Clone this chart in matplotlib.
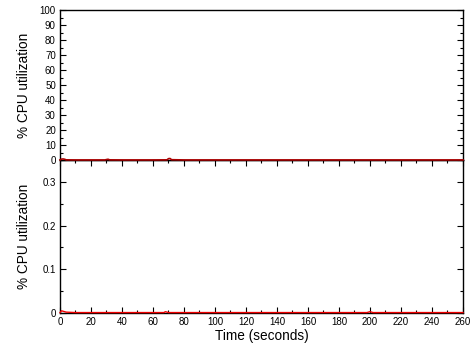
import matplotlib
matplotlib.use("Agg")
import matplotlib.pyplot as plt
from matplotlib.ticker import MultipleLocator

plt.rcParams['font.family'] = ['Liberation Sans', 'DejaVu Sans']

# Top panel series (percent CPU, 0-100 scale)
top_time = [0, 1, 2, 3, 4, 10, 20, 29, 30, 31, 32, 40, 50, 60, 69, 70, 71, 72, 80, 100,
            120, 140, 160, 180, 200, 220, 240, 260]
top_cpu = [0.1, 0.6, 0.7, 0.5, 0.1, 0.05, 0.05, 0.05, 0.3, 0.5, 0.1, 0.05, 0.05, 0.05, 0.1,
           0.9, 1.0, 0.2, 0.05, 0.05, 0.05, 0.05, 0.05, 0.05, 0.05, 0.05, 0.05, 0.05]

# Bottom panel series (percent CPU, zoomed scale)
bot_time = [0, 1, 2, 4, 10, 20, 30, 40, 50, 60, 67, 68, 70, 80, 100, 120, 140, 160, 180,
            198, 200, 202, 220, 240, 260]
bot_cpu = [0.001, 0.005, 0.004, 0.002, 0.001, 0.001, 0.001, 0.001, 0.001, 0.001, 0.001,
           0.003, 0.001, 0.001, 0.001, 0.001, 0.001, 0.001, 0.001, 0.001, 0.003, 0.001,
           0.001, 0.001, 0.001]

top_yticks = [0, 10, 20, 30, 40, 50, 60, 70, 80, 90, 100]
bot_yticks = [0, 0.1, 0.2, 0.3]
xticks = list(range(0, 261, 20))

W, H = 470, 349
fig = plt.figure(figsize=(W / 100, H / 100), dpi=100)

left = 60 / W
width = (463 - 60) / W
ax1 = fig.add_axes([left, 1 - 160 / H, width, (160 - 10) / H])
ax2 = fig.add_axes([left, 1 - 313 / H, width, (313 - 160) / H])
ax1.set_zorder(3)

for ax in (ax1, ax2):
    for s in ax.spines.values():
        s.set_linewidth(1.0)
        s.set_color('black')
    ax.tick_params(axis='both', which='both', direction='in', labelsize=7,
                   colors='black', width=0.8, pad=3)
    ax.tick_params(which='major', length=4)
    ax.tick_params(which='minor', length=2)
    ax.set_xlim(0, 260)

ax1.plot(top_time, top_cpu, color='#aa0000', lw=1.2, clip_on=False, zorder=5)
ax1.set_ylim(0, 100)
ax1.set_yticks(top_yticks)
ax1.yaxis.set_minor_locator(MultipleLocator(5))
ax1.tick_params(axis='y', which='both', left=True, right=True)
ax1.tick_params(axis='x', which='both', bottom=False, top=False, labelbottom=False)
ax1.set_ylabel('% CPU utilization', fontsize=9.8)

ax2.plot(bot_time, bot_cpu, color='#ee0000', lw=1.0, clip_on=False, zorder=5)
ax2.set_ylim(0, 0.35)
ax2.set_yticks(bot_yticks)
ax2.set_yticklabels(['0', '0.1', '0.2', '0.3'])
ax2.yaxis.set_minor_locator(MultipleLocator(0.05))
ax2.set_xticks(xticks)
ax2.xaxis.set_minor_locator(MultipleLocator(10))
ax2.tick_params(axis='both', which='both', left=True, right=True, top=True, bottom=True)
ax2.set_ylabel('% CPU utilization', fontsize=9.8)
ax2.set_xlabel('Time (seconds)', fontsize=9.8, labelpad=1)

ax1.yaxis.set_label_coords(-0.073, 0.5)
ax2.yaxis.set_label_coords(-0.073, 0.5)

fig.savefig('out.png', dpi=100)
